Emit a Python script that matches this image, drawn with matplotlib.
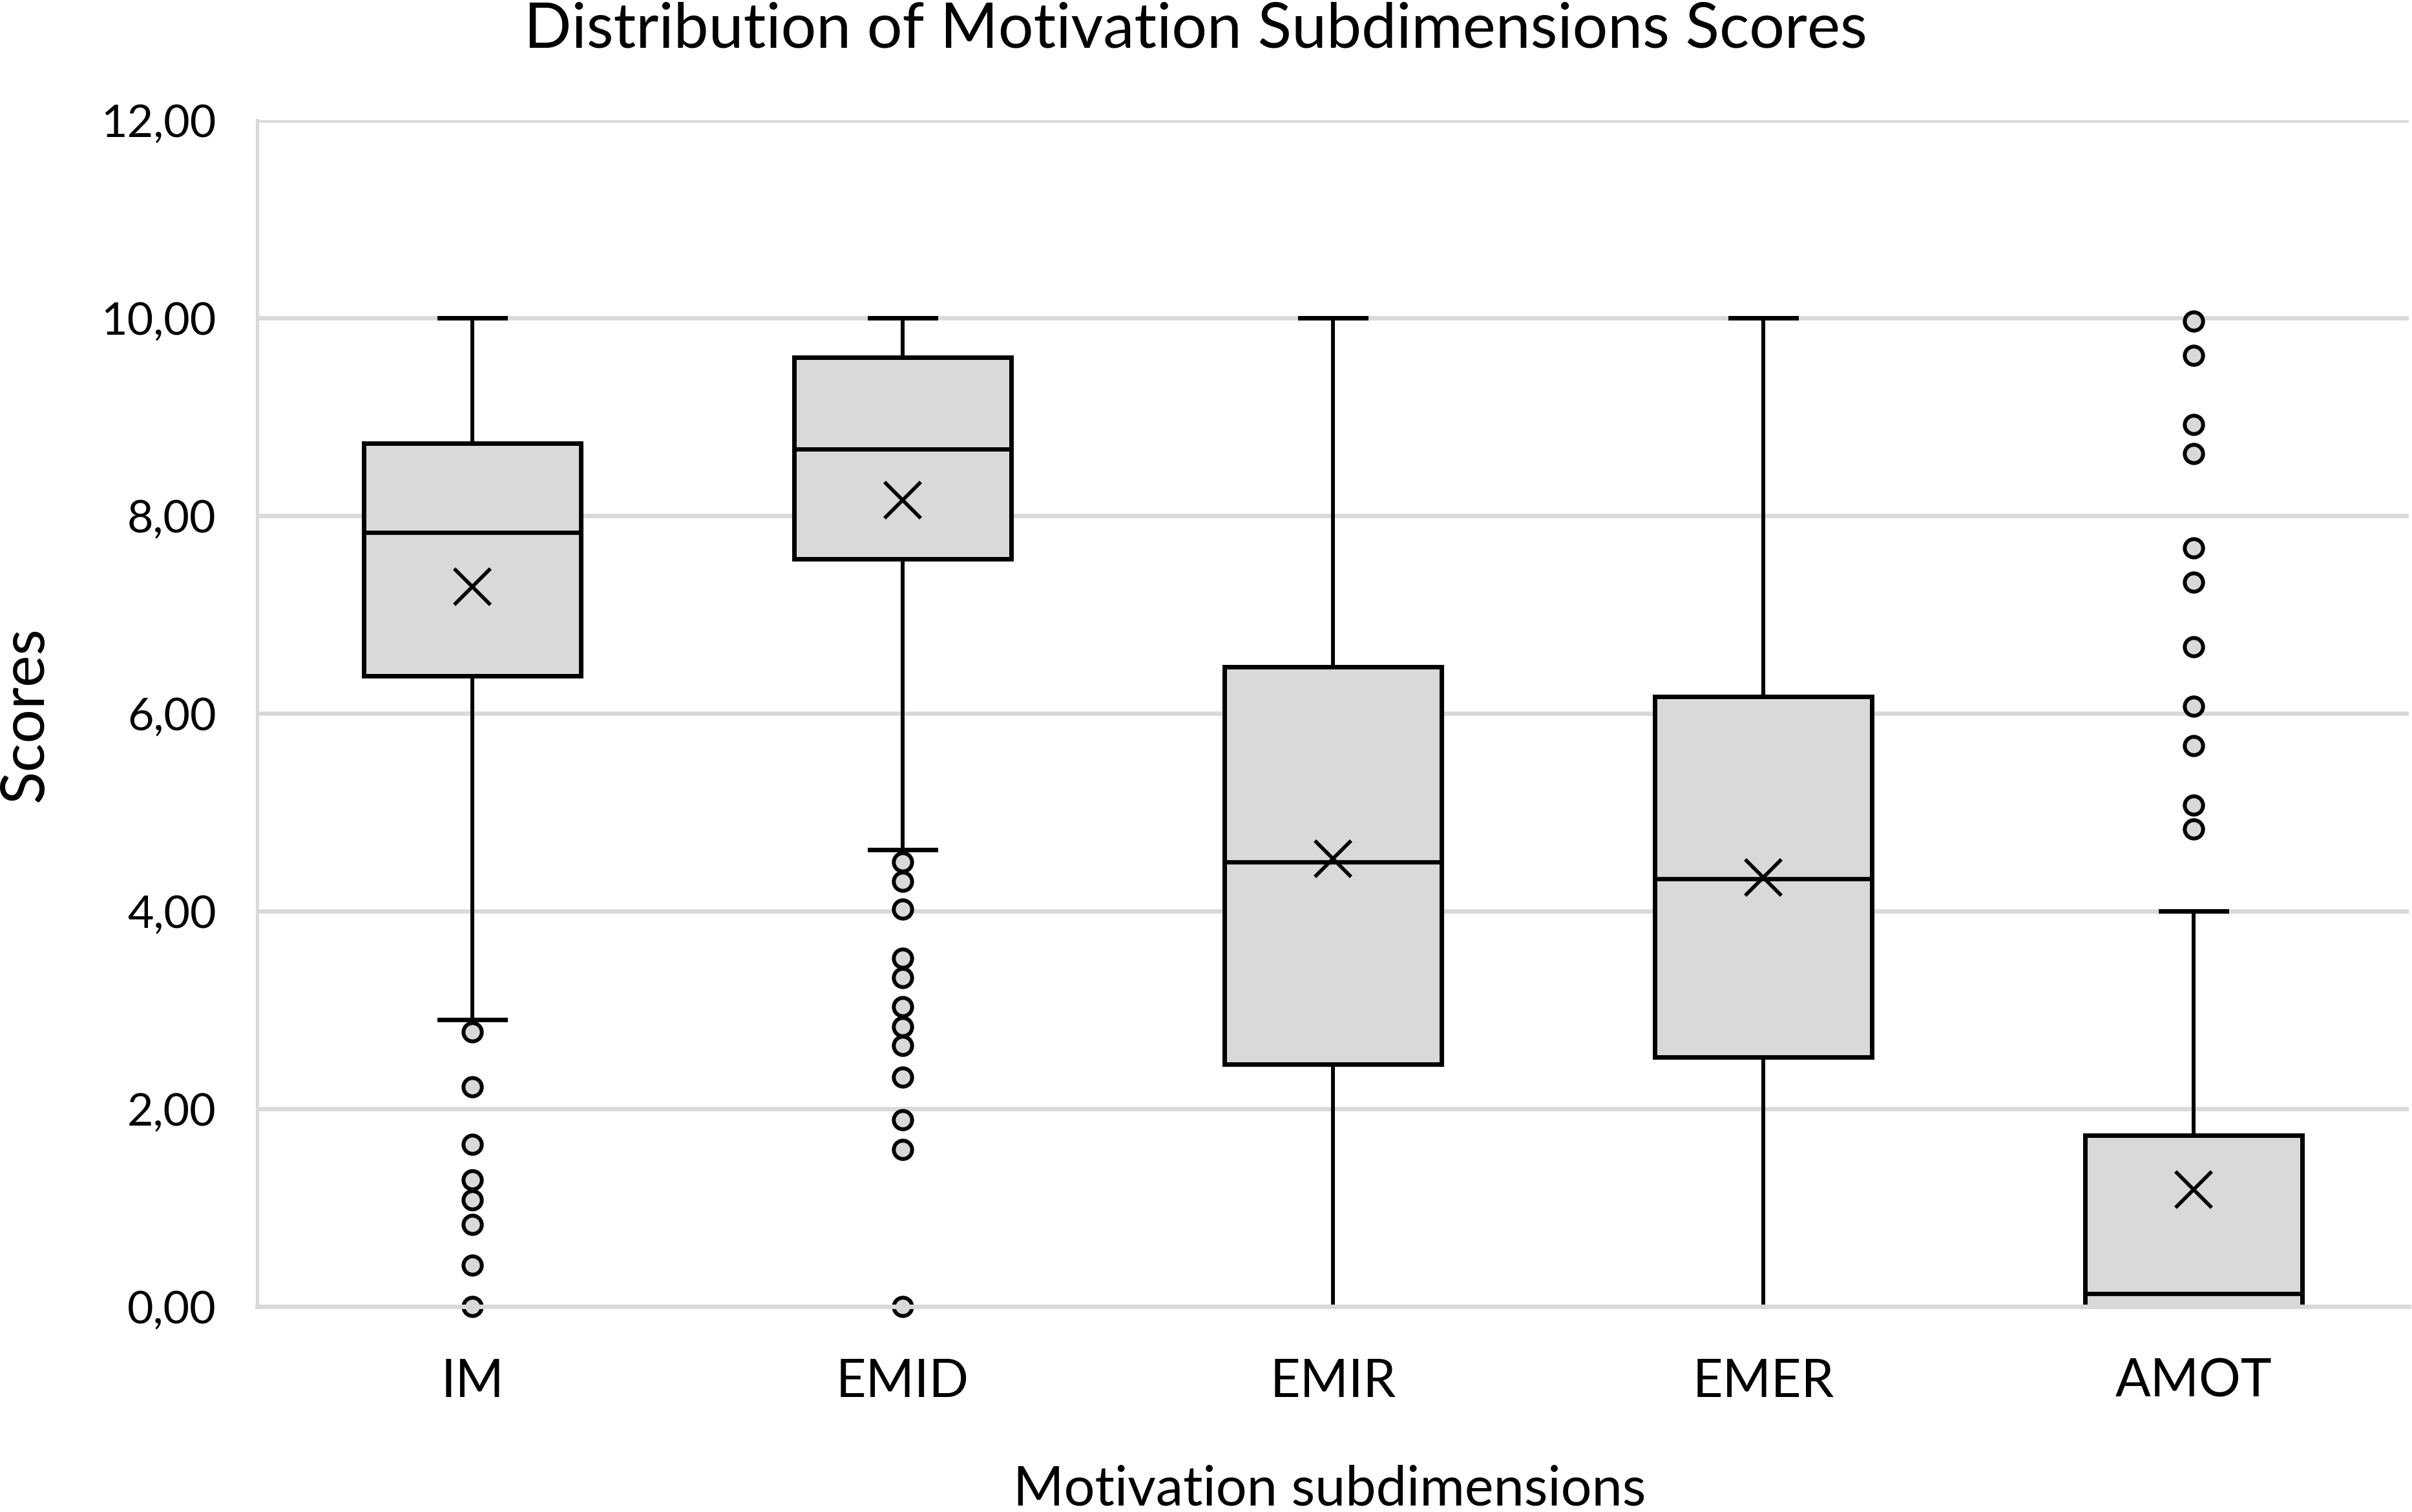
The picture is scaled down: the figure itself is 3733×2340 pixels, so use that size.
import matplotlib
matplotlib.use("Agg")
import matplotlib.pyplot as plt
from matplotlib.ticker import FuncFormatter, MultipleLocator

plt.rcParams['font.family'] = ['Lato', 'DejaVu Sans']

categories = ["IM", "EMID", "EMIR", "EMER", "AMOT"]
q1 = [6.38, 7.56, 2.45, 2.52, 0.00]
median = [7.83, 8.67, 4.50, 4.33, 0.13]
q3 = [8.73, 9.60, 6.47, 6.17, 1.73]
mean = [7.28, 8.16, 4.53, 4.34, 1.18]
whisker_low = [2.90, 4.62, 0.00, 0.00, 0.00]
whisker_high = [10.00, 10.00, 10.00, 10.00, 4.00]
outliers_im = [2.78, 2.22, 1.64, 1.28, 1.08, 0.83, 0.42, 0.00]
outliers_emid = [4.50, 4.30, 4.02, 3.52, 3.33, 3.03, 2.83, 2.64, 2.32, 1.89, 1.59, 0.00]
outliers_emir = []
outliers_emer = []
outliers_amot = [9.97, 9.62, 8.92, 8.63, 7.67, 7.33, 6.67, 6.07, 5.67, 5.07, 4.83]
outliers = [outliers_im, outliers_emid, outliers_emir, outliers_emer, outliers_amot]

title = "Distribution of Motivation Subdimensions Scores"
xlabel = "Motivation subdimensions"
ylabel = "Scores"

W, H = 3733, 2340
DPI = 240
fig = plt.figure(figsize=(W / DPI, H / DPI), dpi=DPI)
fig.patch.set_facecolor('white')

ax = fig.add_axes([398 / W, 1 - 2022 / H, (3728 - 398) / W, (2022 - 186) / H])

stats = []
for i, name in enumerate(categories):
    stats.append(dict(label=name, q1=q1[i], med=median[i], q3=q3[i], mean=mean[i],
                      whislo=whisker_low[i], whishi=whisker_high[i], fliers=outliers[i]))

GRAY = '#d9d9d9'
res = ax.bxp(stats, positions=range(1, len(categories) + 1), widths=0.505,
             capwidths=0.152, patch_artist=True, showmeans=True, meanline=False,
             boxprops=dict(facecolor=GRAY, edgecolor='black', linewidth=2.1),
             whiskerprops=dict(color='black', linewidth=1.8),
             capprops=dict(color='black', linewidth=2.1),
             medianprops=dict(color='black', linewidth=2.0),
             meanprops=dict(marker='x', markersize=17, markeredgecolor='black',
                            markeredgewidth=1.7, markerfacecolor='black'),
             flierprops=dict(marker='o', markersize=8.5, markerfacecolor=GRAY,
                             markeredgecolor='black', markeredgewidth=1.8,
                             linestyle='none'))
for f in res['fliers']:
    f.set_clip_on(False)
    f.set_zorder(5)
for k in ('whiskers', 'caps', 'medians', 'means', 'boxes'):
    for a in res[k]:
        a.set_zorder(4)

ax.set_xlim(0.5, len(categories) + 0.5)
ax.set_ylim(0, 12)
ax.yaxis.set_major_locator(MultipleLocator(2))
ax.yaxis.set_major_formatter(FuncFormatter(lambda v, p: f"{v:.2f}".replace('.', ',')))
ax.set_xticks(range(1, len(categories) + 1))
ax.set_xticklabels(categories)

ax.grid(axis='y', color=GRAY, linewidth=2.0)
ax.set_axisbelow(True)
for s in ('top', 'right'):
    ax.spines[s].set_visible(False)
ax.spines['left'].set_color(GRAY)
ax.spines['left'].set_linewidth(1.5)
ax.spines['bottom'].set_color(GRAY)
ax.spines['bottom'].set_linewidth(2.1)
ax.spines['bottom'].set_zorder(10)

ax.tick_params(axis='both', length=0)
ax.tick_params(axis='y', labelsize=21, pad=19)
ax.tick_params(axis='x', labelsize=24.3, pad=24)

fig.text(1850 / W, 1 - 74 / H, title, ha='center', va='baseline', fontsize=29)
fig.text(2058 / W, 10 / H, xlabel, ha='center', va='baseline', fontsize=25.4)
fig.text(66 / W, 1 - 1105 / H, ylabel, rotation=90, rotation_mode='anchor',
         ha='center', va='baseline', fontsize=28)

fig.savefig('out.png', dpi=DPI, facecolor='white')
